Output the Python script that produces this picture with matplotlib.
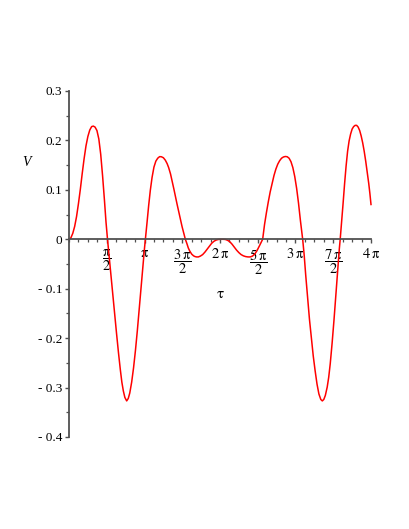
import numpy as np
import matplotlib
matplotlib.use("Agg")
import matplotlib.pyplot as plt
from matplotlib.ticker import FixedLocator, MultipleLocator

plt.rcParams['font.family'] = ['Liberation Serif', 'DejaVu Serif']
plt.rcParams['mathtext.fontset'] = 'stix'

# tau in units of pi, V
tau_over_pi = [
    0.00, 0.025, 0.05, 0.075, 0.10, 0.125, 0.15, 0.175, 0.20, 0.225, 0.25, 0.275, 0.30, 0.322,
    0.345, 0.37, 0.395, 0.42, 0.445, 0.47, 0.49, 0.51,
    0.53, 0.555, 0.58, 0.605, 0.63, 0.655, 0.68, 0.70, 0.72, 0.74, 0.764,
    0.785, 0.805, 0.83, 0.855, 0.88, 0.905, 0.93, 0.955, 0.98, 1.00, 1.012,
    1.033, 1.055, 1.077, 1.10, 1.125, 1.15, 1.175, 1.20, 1.223, 1.25, 1.276, 1.30, 1.32, 1.345,
    1.364, 1.39, 1.41, 1.43, 1.452, 1.475, 1.497, 1.52, 1.541,
    1.56, 1.58, 1.60, 1.625, 1.65, 1.67, 1.69, 1.713, 1.74, 1.77, 1.80, 1.83, 1.86, 1.89,
    1.92, 1.95, 1.98, 2.01, 2.04,
    2.07, 2.10, 2.13, 2.16, 2.19, 2.22, 2.25, 2.28, 2.31, 2.34, 2.37, 2.40, 2.43, 2.46, 2.49,
    2.52, 2.545, 2.565,
    2.59, 2.615, 2.64, 2.665, 2.69, 2.715, 2.74, 2.765, 2.79, 2.815, 2.84, 2.865, 2.89, 2.915,
    2.94, 2.965, 2.99, 3.015, 3.04, 3.065, 3.095,
    3.115, 3.135, 3.16, 3.185, 3.21, 3.235, 3.26, 3.285, 3.31, 3.335, 3.355, 3.375, 3.395, 3.42,
    3.44, 3.46, 3.485, 3.51, 3.535, 3.56, 3.58, 3.592,
    3.61, 3.63, 3.65, 3.67, 3.69, 3.71, 3.73, 3.75, 3.77, 3.79, 3.81, 3.83, 3.85, 3.87, 3.89,
    3.91, 3.93, 3.95, 3.97, 3.985, 4.00,
]
V = [
    0.000, 0.003, 0.012, 0.026, 0.046, 0.072, 0.101, 0.133, 0.163, 0.189, 0.208, 0.221, 0.228, 0.229,
    0.227, 0.220, 0.203, 0.172, 0.128, 0.078, 0.035, 0.000,
    -0.032, -0.074, -0.113, -0.152, -0.191, -0.229, -0.264, -0.289, -0.307, -0.320, -0.327,
    -0.322, -0.311, -0.289, -0.260, -0.225, -0.185, -0.141, -0.096, -0.052, -0.018, 0.000,
    0.033, 0.068, 0.099, 0.125, 0.146, 0.158, 0.164, 0.1672, 0.167, 0.165, 0.160, 0.153, 0.145, 0.132,
    0.119, 0.101, 0.086, 0.072, 0.057, 0.041, 0.026, 0.012, 0.000,
    -0.008, -0.0175, -0.024, -0.030, -0.0335, -0.035, -0.0357, -0.0357, -0.034, -0.031, -0.026, -0.020, -0.014, -0.008,
    -0.004, -0.0015, -0.0003, 0.000, 0.000,
    -0.0003, -0.002, -0.005, -0.010, -0.016, -0.022, -0.027, -0.031, -0.0335, -0.035, -0.0357, -0.0357, -0.034, -0.030, -0.023,
    -0.014, -0.006, 0.000,
    0.030, 0.054, 0.076, 0.096, 0.113, 0.129, 0.142, 0.152, 0.159, 0.164, 0.1665, 0.1675, 0.167, 0.164,
    0.157, 0.145, 0.127, 0.103, 0.073, 0.038, 0.000,
    -0.032, -0.072, -0.118, -0.162, -0.200, -0.236, -0.266, -0.293, -0.313, -0.324, -0.327, -0.324, -0.316, -0.299,
    -0.279, -0.252, -0.210, -0.163, -0.112, -0.060, -0.020, 0.000,
    0.033, 0.072, 0.112, 0.148, 0.178, 0.199, 0.213, 0.223, 0.228, 0.2305, 0.2305, 0.227, 0.220, 0.209, 0.195,
    0.178, 0.158, 0.136, 0.113, 0.093, 0.0704,
]

x_tick_multiples = [0.5, 1.0, 1.5, 2.0, 2.5, 3.0, 3.5, 4.0]
x_tick_labels = [r"$\dfrac{\mathrm{\pi}}{2}$", r"$\mathrm{\pi}$", r"$\dfrac{3\,\mathrm{\pi}}{2}$",
                 r"$2\,\mathrm{\pi}$", r"$\dfrac{5\,\mathrm{\pi}}{2}$", r"$3\,\mathrm{\pi}$",
                 r"$\dfrac{7\,\mathrm{\pi}}{2}$", r"$4\,\mathrm{\pi}$"]
y_ticks = [-0.4, -0.3, -0.2, -0.1, 0.0, 0.1, 0.2, 0.3]
y_tick_labels = ["- 0.4", "- 0.3", "- 0.2", "- 0.1", "0", "0.1", "0.2", "0.3"]

W, H = 409, 529
fig = plt.figure(figsize=(W / 100, H / 100), dpi=100)
ax = fig.add_axes([69 / W, 1 - 437 / H, (371 - 69) / W, (437 - 91) / H])

x = np.array(tau_over_pi) * np.pi
ax.plot(x, V, color='#ff0000', lw=1.1, clip_on=False)

ax.set_xlim(0, 4 * np.pi)
ax.set_ylim(-0.4, 0.3)

axis_col = '#505050'
for s in ['top', 'right']:
    ax.spines[s].set_visible(False)
ax.spines['left'].set_position(('data', 0))
ax.spines['bottom'].set_position(('data', 0))
for s in ['left', 'bottom']:
    ax.spines[s].set_color(axis_col)
    ax.spines[s].set_linewidth(1.3)

ax.xaxis.set_major_locator(FixedLocator(np.array(x_tick_multiples) * np.pi))
ax.set_xticklabels(x_tick_labels)
ax.xaxis.set_minor_locator(MultipleLocator(np.pi / 8))
ax.set_yticks(y_ticks)
ax.set_yticklabels(y_tick_labels)
ax.yaxis.set_minor_locator(MultipleLocator(0.05))

ax.tick_params(axis='both', which='major', length=3.2, width=1.0, color=axis_col,
               labelsize=9.5, labelcolor='black')
ax.tick_params(axis='both', which='minor', length=2.0, width=0.9, color=axis_col)
ax.tick_params(axis='x', which='major', pad=2.5, labelsize=10.5)
ax.tick_params(axis='y', which='major', pad=1.5)

ax.set_xlabel(r"$\mathrm{\tau}$", fontsize=11)
ax.xaxis.set_label_coords((220 - 69) / 302, (437 - 288) / 346)
ax.set_ylabel("V", fontsize=10, style='italic', rotation=0, va='center', ha='center')
ax.yaxis.set_label_coords((27 - 69) / 302, (437 - 163) / 346)

fig.savefig("out.png", dpi=100)
